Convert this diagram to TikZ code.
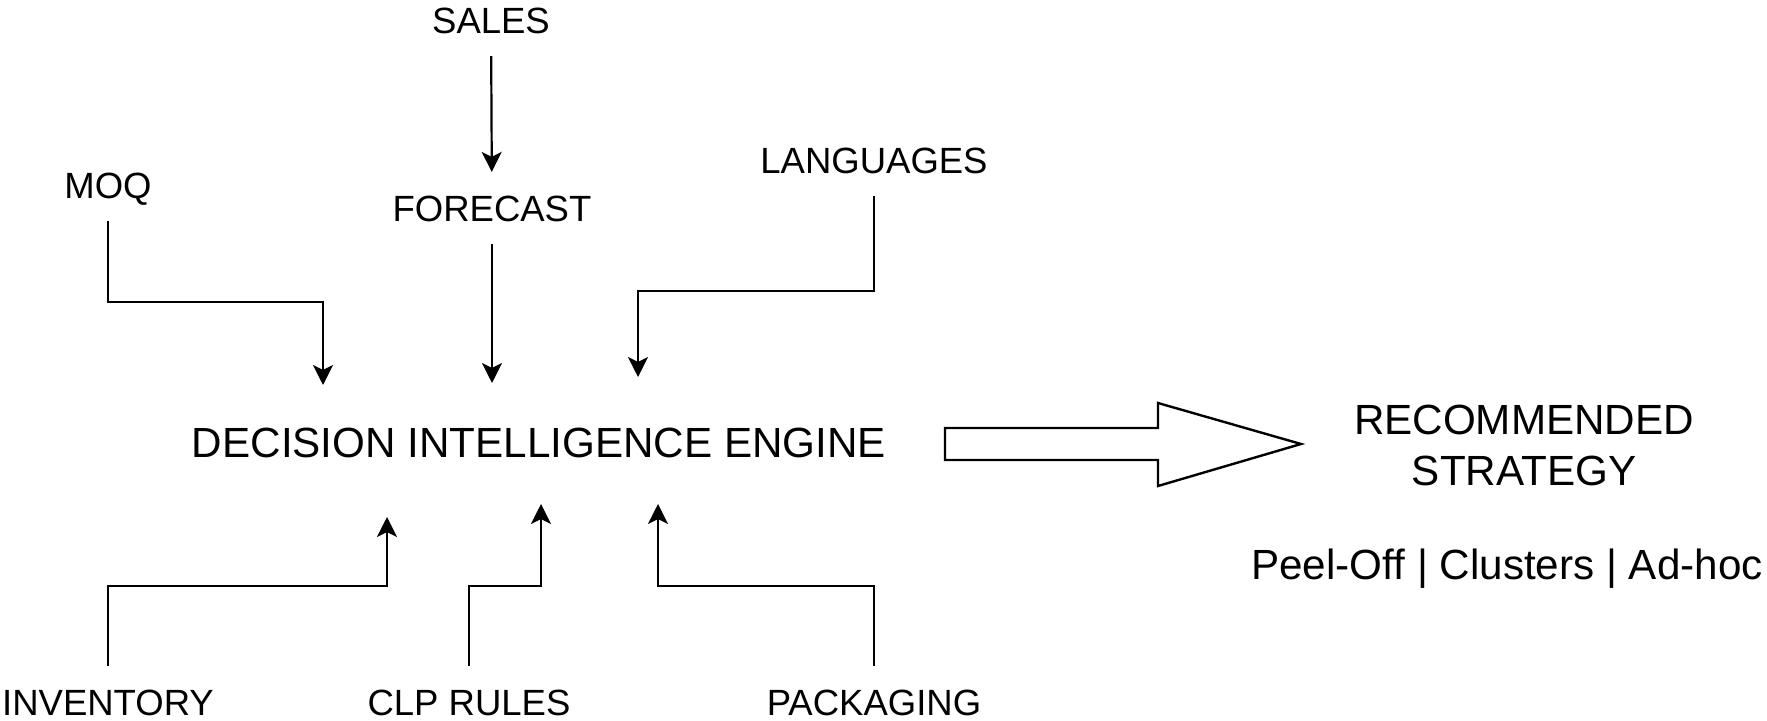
\documentclass[tikz,border=0pt]{standalone}
\usepackage{fontspec}
\setmainfont{Liberation Sans}
\usetikzlibrary{arrows.meta}

\begin{document}
\begin{tikzpicture}[x=0.5pt,y=-0.5pt,
    lbl/.style={font=\fontsize{18.25}{22}\selectfont,inner sep=0pt,text height=13.1pt,text depth=0pt,outer ysep=11.5pt},
    big/.style={font=\fontsize{21.1}{25.5}\selectfont,inner sep=0pt},
    feed/.style={line width=1.1pt,-{Stealth[length=10pt,width=10pt,inset=2.5pt]}}]
  \useasboundingbox (0,0) rectangle (1767,721);
  \node[lbl] (sales) at (491,20) {SALES};
  \node[lbl] (forecast) at (492,208) {FORECAST};
  \node[lbl] (moq) at (108,185) {MOQ};
  \node[lbl] (languages) at (874,160) {LANGUAGES};
  \node[lbl] (inventory) at (108,702) {INVENTORY};
  \node[lbl] (clprules) at (469,702) {CLP RULES};
  \node[lbl] (packaging) at (874,702) {PACKAGING};
  \node[big,text height=15pt,text depth=0pt] (engine) at (539,443) {DECISION INTELLIGENCE ENGINE};
  \node[big,align=center] (strategy) at (1524,445) {RECOMMENDED\\STRATEGY};
  \node[big,text height=15pt,text depth=0pt] (options) at (1507,564) {Peel-Off | Clusters | Ad-hoc};
  \coordinate (inmoq) at (323,385);
  \coordinate (inforecast) at (492,383);
  \coordinate (inlang) at (638,377);
  \coordinate (ininv) at (387,517);
  \coordinate (inclp) at (541,504);
  \coordinate (inpack) at (658,504);
  \draw[feed] (sales) -- (forecast);
  \draw[feed] (forecast) -- (inforecast);
  \draw[feed] (moq) -- (moq |- 0,302) -| (inmoq);
  \draw[feed] (languages) -- (languages |- 0,291) -| (inlang);
  \draw[feed] (inventory) -- (inventory |- 0,586) -| (ininv);
  \draw[feed] (clprules) -- (clprules |- 0,586) -| (inclp);
  \draw[feed] (packaging) -- (packaging |- 0,586) -| (inpack);
  % hollow block arrow to the result
  \draw[line width=1.2pt] (945,428) -- (1158,428) -- (1158,403) -- (1301,444) -- (1158,486) -- (1158,460) -- (945,460) -- cycle;
\end{tikzpicture}
\end{document}
